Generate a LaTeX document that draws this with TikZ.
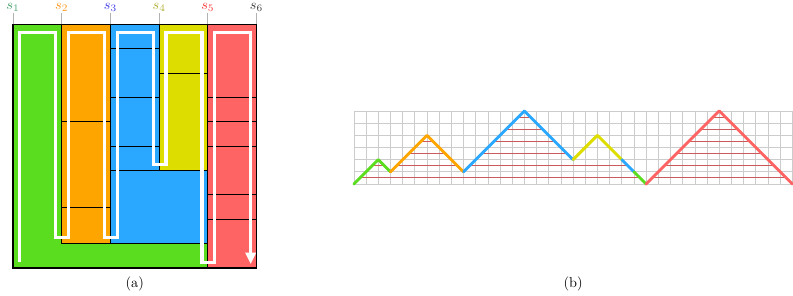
\documentclass[tikz,border=0pt]{standalone}
\usepackage{tikz}
\usetikzlibrary{arrows.meta}

\definecolor{cgreen}{RGB}{91,221,31}
\definecolor{corange}{RGB}{255,165,0}
\definecolor{cblue}{RGB}{42,168,255}
\definecolor{cyellow}{RGB}{221,221,0}
\definecolor{cred}{RGB}{255,100,100}
\definecolor{lgreen}{RGB}{70,160,110}
\definecolor{lorange}{RGB}{250,150,30}
\definecolor{lblue}{RGB}{60,60,230}
\definecolor{lyellow}{RGB}{175,175,50}
\definecolor{lred}{RGB}{250,55,55}
\definecolor{lblack}{RGB}{60,60,60}
\definecolor{chordred}{RGB}{205,90,90}

\begin{document}
\begin{tikzpicture}[x=0.6cm, y=0.6cm,
        item/.style={draw=black, line width=0.7pt},
        snake/.style={draw=white, line width=2.2pt},
        tick/.style={draw=black!30, line width=0.5pt},
        slabel/.style={anchor=south, inner sep=0.6pt},
        mesh/.style={draw=black!20, line width=0.5pt},
        levelline/.style={color=chordred, line width=0.6pt},
        walk/.style={line width=2pt, line cap=round, line join=round}]

    \useasboundingbox (-0.534,-1.109) rectangle (32.03,11.006);

    % (a) strip packing
    \filldraw[item, fill=cgreen] (0,0) -- (8,0) -- (8,1) -- (2,1) -- (2,10) -- (0,10) -- cycle;
    \filldraw[item, fill=corange] (2,1) rectangle (4,10);
    \filldraw[item, fill=cblue] (4,1) -- (8,1) -- (8,4) -- (6,4) -- (6,10) -- (4,10) -- cycle;
    \filldraw[item, fill=cyellow] (6,4) rectangle (8,10);
    \filldraw[item, fill=cred] (8,0) rectangle (10,10);

    \draw[item] (2,2.5) -- (4,2.5);
    \draw[item] (2,6) -- (4,6);
    \foreach \y in {5,7,9} \draw[item] (4,\y) -- (6,\y);
    \draw[item] (4,4) -- (8,4);
    \draw[item] (6,8) -- (8,8);
    \foreach \y in {2,3,5,6,7} \draw[item] (8,\y) -- (10,\y);

    \draw[snake, -{Triangle[width=7pt,length=8pt]}]
        (0.28,0.26) -- (0.28,9.66) -- (1.76,9.66) -- (1.76,1.24) -- (2.28,1.24)
        -- (2.28,9.66) -- (3.76,9.66) -- (3.76,1.24) -- (4.28,1.24)
        -- (4.28,9.66) -- (5.76,9.66) -- (5.76,4.24) -- (6.28,4.24)
        -- (6.28,9.66) -- (7.76,9.66) -- (7.76,0.24) -- (8.28,0.24)
        -- (8.28,9.66) -- (9.76,9.66) -- (9.76,0.16);

    \draw[black, line width=1.2pt] (0,0) rectangle (10,10);

    \foreach \i/\c in {1/lgreen,2/lorange,3/lblue,4/lyellow,5/lred,6/lblack} {
        \draw[tick] ({2*(\i-1)},10) -- ({2*(\i-1)},10.47);
        \node[slabel, text=\c] (s\i) at ({2*(\i-1)},10.47) {$s_{\i}$};
    }
    \node (capa) at (5,-0.66) {(a)};

    % (b) lattice path
    \begin{scope}[shift={(14,3.45)}, x=0.3cm, y=0.3cm]
        \foreach \k in {0,...,36} \draw[mesh] (\k,0) -- (\k,6);
        \foreach \k in {0,...,6} \draw[mesh] (0,\k) -- (36,\k);
        \foreach \lev/\from/\upto in {0.5/0.5/23.5, 0.5/24.5/35.5,
                1.5/1.5/2.5, 1.5/3.5/8.5, 1.5/9.5/22.5, 1.5/25.5/34.5,
                2.5/4.5/7.5, 2.5/10.5/17.5, 2.5/26.5/33.5,
                3.5/5.5/6.5, 3.5/11.5/16.5, 3.5/27.5/32.5,
                4.5/12.5/15.5, 4.5/28.5/31.5,
                5.5/13.5/14.5, 5.5/29.5/30.5}
            \draw[levelline] (\from,\lev) -- (\upto,\lev);
        \draw[walk, cgreen] (0,0) -- (2,2) -- (3,1);
        \draw[walk, corange] (3,1) -- (6,4) -- (9,1);
        \draw[walk, cblue] (9,1) -- (14,6) -- (18,2);
        \draw[walk, cyellow] (18,2) -- (20,4) -- (22,2);
        \draw[walk, cblue] (22,2) -- (23,1);
        \draw[walk, cgreen] (23,1) -- (24,0);
        \draw[walk, cred] (24,0) -- (30,6) -- (36,0);
    \end{scope}
    \node (capb) at (23,-0.66) {(b)};
\end{tikzpicture}
\end{document}
